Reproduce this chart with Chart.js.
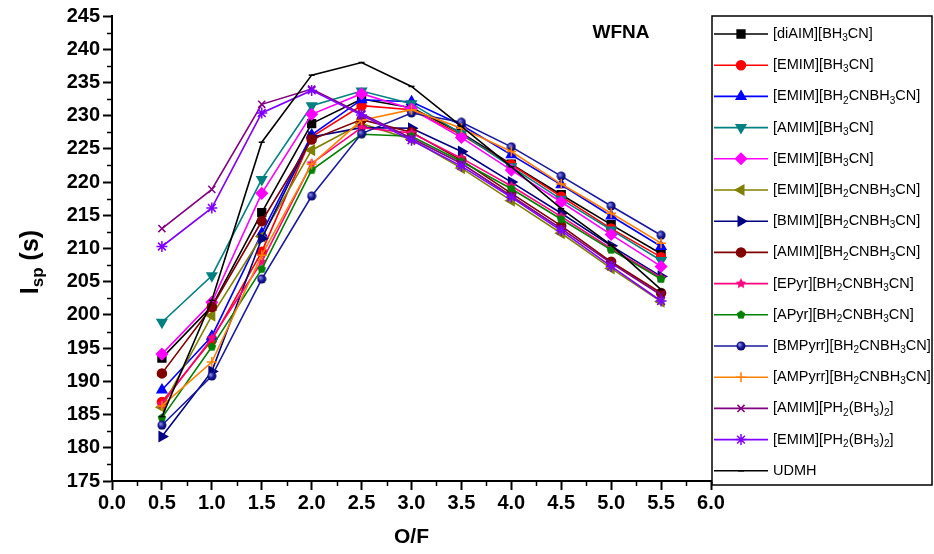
<!DOCTYPE html>
<html>
<head>
<meta charset="utf-8">
<script src="https://cdn.jsdelivr.net/npm/chart.js@4.4.0/dist/chart.umd.min.js"></script>
<style>
  html, body { margin: 0; padding: 0; background: #fff; }
  #wrap { width: 934px; height: 554px; }
</style>
</head>
<body>
<div id="wrap"><canvas id="myChart" width="934" height="554"></canvas></div>
<script>
// O/F values (x)
const ofRatio = [0.5, 1.0, 1.5, 2.0, 2.5, 3.0, 3.5, 4.0, 4.5, 5.0, 5.5];

// Isp (s) per propellant
const diAIM_BH3CN       = [193.5, 201.3, 215.4, 228.8, 232.5, 231.2, 227.4, 222.7, 218.1, 213.6, 209.2];
const EMIM_BH3CN_a      = [186.9, 196.2, 209.5, 226.8, 231.5, 230.9, 227.1, 222.6, 217.8, 213.0, 208.7];
const EMIM_BH2CNBH3CN_a = [188.7, 196.8, 212.3, 227.1, 232.4, 232.1, 228.6, 224.1, 219.6, 214.9, 210.3];
const AMIM_BH3CN        = [198.9, 205.9, 220.4, 231.5, 233.7, 231.8, 227.3, 222.3, 217.4, 212.8, 208.2];
const EMIM_BH3CN_b      = [194.1, 201.9, 218.3, 230.2, 233.3, 231.0, 226.7, 221.8, 217.0, 212.1, 207.3];
const EMIM_BH2CNBH3CN_b = [186.1, 199.9, 211.8, 224.8, 228.8, 226.4, 222.1, 217.2, 212.3, 207.0, 202.0];
const BMIM_BH2CNBH3CN   = [181.7, 191.5, 211.5, 226.8, 228.2, 228.1, 224.6, 220.0, 215.3, 210.4, 205.8];
const AMIM_BH2CNBH3CN   = [191.2, 201.2, 214.1, 226.4, 229.4, 227.5, 223.3, 218.3, 213.4, 208.0, 203.3];
const EPyr_BH2CNBH3CN   = [186.6, 196.5, 208.0, 222.8, 228.2, 227.4, 223.6, 219.4, 214.8, 210.0, 205.6];
const APyr_BH2CNBH3CN   = [184.5, 195.2, 206.9, 221.8, 227.2, 226.9, 223.1, 219.0, 214.4, 209.8, 205.4];
const BMPyrr_BH2CNBH3CN = [183.4, 190.8, 205.4, 217.9, 227.3, 230.4, 229.0, 225.3, 220.9, 216.4, 212.0];
const AMPyrr_BH2CNBH3CN = [186.3, 192.9, 209.0, 222.7, 229.3, 230.9, 228.1, 224.6, 219.7, 215.3, 210.8];
const AMIM_PH2BH32      = [213.0, 218.9, 231.7, 234.0, 230.3, 226.6, 222.8, 217.9, 213.0, 207.8, 203.0];
const EMIM_PH2BH32      = [210.3, 216.1, 230.4, 233.8, 230.1, 226.3, 222.4, 217.7, 212.7, 207.3, 202.1];
const UDMH              = [184.7, 202.2, 226.0, 236.1, 238.0, 234.4, 228.4, 222.3, 216.0, 210.5, 203.8];

// legend names, "_x" = subscript x
const seriesNames = [
  '[diAIM][BH_3CN]', '[EMIM][BH_3CN]', '[EMIM][BH_2CNBH_3CN]', '[AMIM][BH_3CN]',
  '[EMIM][BH_3CN]', '[EMIM][BH_2CNBH_3CN]', '[BMIM][BH_2CNBH_3CN]', '[AMIM][BH_2CNBH_3CN]',
  '[EPyr][BH_2CNBH_3CN]', '[APyr][BH_2CNBH_3CN]', '[BMPyrr][BH_2CNBH_3CN]', '[AMPyrr][BH_2CNBH_3CN]',
  '[AMIM][PH_2(BH_3)_2]', '[EMIM][PH_2(BH_3)_2]', 'UDMH'
];
const seriesValues = [
  diAIM_BH3CN, EMIM_BH3CN_a, EMIM_BH2CNBH3CN_a, AMIM_BH3CN, EMIM_BH3CN_b, EMIM_BH2CNBH3CN_b,
  BMIM_BH2CNBH3CN, AMIM_BH2CNBH3CN, EPyr_BH2CNBH3CN, APyr_BH2CNBH3CN, BMPyrr_BH2CNBH3CN,
  AMPyrr_BH2CNBH3CN, AMIM_PH2BH32, EMIM_PH2BH32, UDMH
];
const seriesColors = [
  '#000000', '#ff0000', '#0000ff', '#008080', '#ff00ff', '#808000', '#000080', '#800000',
  '#ff0080', '#008000', '#1a1a9c', '#ff8000', '#800080', '#8000ff', '#000000'
];

// y tick labels 175..245, x tick labels 0.0..6.0
const yMin = 175, yMax = 245, yStep = 5;
const xMin = 0, xMax = 6, xStep = 0.5;

// small canvas markers for shapes Chart.js doesn't have
function shapeImage(size, draw) {
  const c = document.createElement('canvas');
  c.width = size; c.height = size;
  draw(c.getContext('2d'), size / 2);
  return c;
}
function polygon(g, r, n, inner, color) {
  g.fillStyle = color;
  g.beginPath();
  const pts = inner ? n * 2 : n;
  for (let i = 0; i < pts; i++) {
    const a = -Math.PI / 2 + i * 2 * Math.PI / pts;
    const rr = inner && i % 2 ? r * inner : r - 0.5;
    g.lineTo(r + rr * Math.cos(a), r + rr * Math.sin(a));
  }
  g.closePath();
  g.fill();
}
const starImg = shapeImage(12, (g, r) => polygon(g, r, 5, 0.45, '#ff0080'));
const pentImg = shapeImage(10, (g, r) => polygon(g, r, 5, 0, '#008000'));
const ballImg = shapeImage(10, (g, r) => {
  const grd = g.createRadialGradient(r - 1.5, r - 1.5, 0.5, r, r, r);
  grd.addColorStop(0, '#8a8ae0');
  grd.addColorStop(0.5, '#1a1a9c');
  grd.addColorStop(1, '#00005a');
  g.fillStyle = grd;
  g.beginPath(); g.arc(r, r, r - 0.5, 0, Math.PI * 2); g.fill();
});

const markers = [
  { style: 'rect', r: 5.5, rot: 0 },
  { style: 'circle', r: 4.5, rot: 0 },
  { style: 'triangle', r: 5.5, rot: 0 },
  { style: 'triangle', r: 5.5, rot: 180 },
  { style: 'rectRot', r: 5.5, rot: 0 },
  { style: 'triangle', r: 5.5, rot: 270 },
  { style: 'triangle', r: 5.5, rot: 90 },
  { style: 'circle', r: 4.5, rot: 0 },
  { style: starImg, r: 6, rot: 0 },
  { style: pentImg, r: 5, rot: 0 },
  { style: ballImg, r: 5, rot: 0 },
  { style: 'cross', r: 5, rot: 0 },
  { style: 'crossRot', r: 5, rot: 0 },
  { style: 'star', r: 5.5, rot: 0 },
  { style: 'line', r: 3, rot: 0 }
];

const datasets = seriesValues.map((vals, i) => ({
  label: seriesNames[i].replace(/_/g, ''),
  data: vals.map((v, k) => ({ x: ofRatio[k], y: v })),
  borderColor: seriesColors[i],
  backgroundColor: seriesColors[i],
  borderWidth: 1.6,
  pointStyle: markers[i].style,
  pointRadius: markers[i].r,
  pointRotation: markers[i].rot,
  pointBorderWidth: 1.5,
  tension: 0,
  fill: false,
  order: -i
}));

// draw text with "_x" subscripts, returns width
function richText(ctx, text, x, y, size, bold, measureOnly) {
  let w = 0;
  const parts = [];
  for (let i = 0; i < text.length; i++) {
    if (text[i] === '_' && i + 1 < text.length) { parts.push([text[i + 1], true]); i++; }
    else parts.push([text[i], false]);
  }
  const weight = bold ? 'bold ' : '';
  parts.forEach(([ch, sub]) => {
    const fs = sub ? Math.round(size * 0.68) : size;
    ctx.font = weight + fs + 'px "Liberation Sans", Arial, sans-serif';
    if (!measureOnly) ctx.fillText(ch, x + w, y + (sub ? size * 0.3 : 0));
    w += ctx.measureText(ch).width;
  });
  return w;
}

const decorations = {
  id: 'decorations',
  afterDraw(chart) {
    const { ctx, chartArea, scales: { x, y } } = chart;
    ctx.save();
    ctx.strokeStyle = '#000';
    ctx.fillStyle = '#000';

    // minor ticks
    ctx.lineWidth = 1.5;
    for (let v = yMin + yStep / 2; v < yMax; v += yStep) {
      const py = Math.round(y.getPixelForValue(v)) + 0.5;
      ctx.beginPath(); ctx.moveTo(chartArea.left, py); ctx.lineTo(chartArea.left - 5, py); ctx.stroke();
    }
    for (let v = xMin + xStep / 2; v < xMax; v += xStep) {
      const px = Math.round(x.getPixelForValue(v)) + 0.5;
      ctx.beginPath(); ctx.moveTo(px, chartArea.bottom); ctx.lineTo(px, chartArea.bottom + 5); ctx.stroke();
    }

    // y title: I_sp (s)
    ctx.save();
    ctx.translate(31, 262);
    ctx.rotate(-Math.PI / 2);
    ctx.textBaseline = 'middle';
    const tw = richText(ctx, 'I_s_p (s)', 0, 0, 25, true, true);
    richText(ctx, 'I_s_p (s)', -tw / 2, 0, 25, true, false);
    ctx.restore();

    // WFNA
    ctx.font = 'bold 19px "Liberation Sans", Arial, sans-serif';
    ctx.textAlign = 'center';
    ctx.textBaseline = 'middle';
    ctx.fillText('WFNA', 621, 33);

    // legend box
    const lx = 712, ly = 16, lw = 220, lh = 469;
    ctx.lineWidth = 1.5;
    ctx.strokeRect(lx, ly, lw, lh);
    ctx.textAlign = 'left';
    ctx.textBaseline = 'middle';
    const gap = 31.2;
    chart.data.datasets.forEach((ds, i) => {
      const cy = 34 + i * gap;
      ctx.strokeStyle = ds.borderColor;
      ctx.lineWidth = 1.6;
      ctx.beginPath(); ctx.moveTo(714, cy); ctx.lineTo(768, cy); ctx.stroke();
      if (Chart.helpers && Chart.helpers.drawPoint) {
        ctx.fillStyle = ds.backgroundColor;
        ctx.lineWidth = ds.pointBorderWidth;
        Chart.helpers.drawPoint(ctx, {
          pointStyle: ds.pointStyle, radius: ds.pointRadius,
          rotation: ds.pointRotation, borderWidth: ds.pointBorderWidth
        }, 741, cy);
      }
      ctx.fillStyle = '#000';
      richText(ctx, seriesNames[i], 773, cy, 14.5, false, false);
    });
    ctx.restore();
  }
};

const boldFont = { family: '"Liberation Sans", Arial, sans-serif', weight: 'bold', size: 20 };

new Chart(document.getElementById('myChart'), {
  type: 'line',
  data: { datasets },
  options: {
    responsive: false,
    animation: false,
    layout: { padding: { left: 0, right: 223, top: 16, bottom: 0 } },
    plugins: { legend: { display: false }, tooltip: { enabled: false } },
    scales: {
      x: {
        type: 'linear', min: xMin, max: xMax,
        afterFit: s => { s.height = 73; },
        ticks: { stepSize: xStep, color: '#000', font: boldFont, padding: 1,
          callback: v => Number(v).toFixed(1), maxRotation: 0, autoSkip: false },
        grid: { drawOnChartArea: false, drawTicks: true, tickLength: 9, tickWidth: 2, tickColor: '#000' },
        border: { display: true, color: '#000', width: 2 },
        title: { display: true, text: 'O/F', color: '#000', padding: { top: 0, bottom: 4 },
          font: { family: '"Liberation Sans", Arial, sans-serif', weight: 'bold', size: 21 } }
      },
      y: {
        min: yMin, max: yMax,
        afterFit: s => { s.width = 112; },
        ticks: { stepSize: yStep, color: '#000', font: boldFont, padding: 3, autoSkip: false },
        grid: { drawOnChartArea: false, drawTicks: true, tickLength: 9, tickWidth: 2, tickColor: '#000' },
        border: { display: true, color: '#000', width: 2 }
      }
    }
  },
  plugins: [decorations]
});
</script>
</body>
</html>
